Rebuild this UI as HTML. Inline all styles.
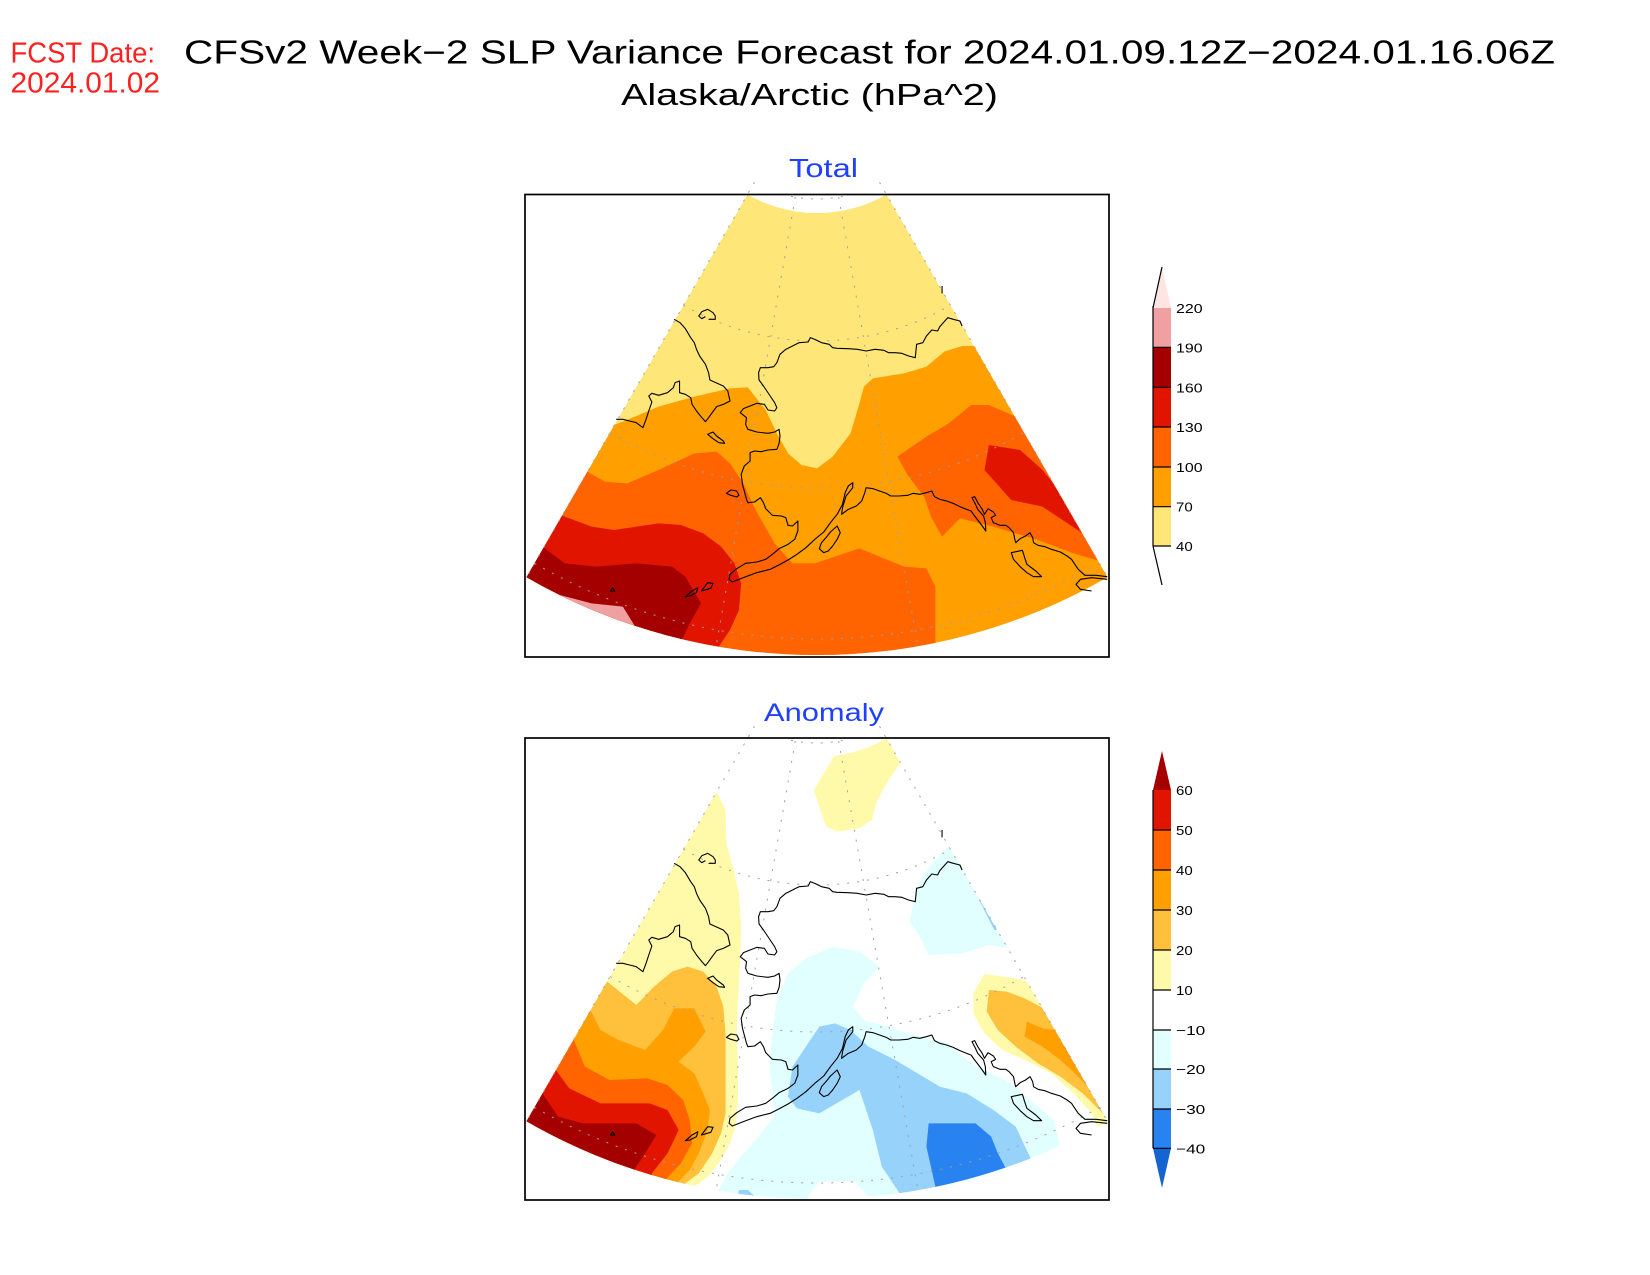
<!DOCTYPE html>
<html><head><meta charset="utf-8"><style>html,body{margin:0;padding:0;background:#fff}svg{display:block}</style></head><body>
<svg width="1650" height="1275" viewBox="0 0 1650 1275" xmlns="http://www.w3.org/2000/svg" font-family="'Liberation Sans', sans-serif">
<defs>
<clipPath id="c1"><path d="M747.5,194.4 L526.5,577.2 A581,581 0 0 0 1107.5,577.2 L886.5,194.4 A139,139 0 0 1 747.5,194.4 Z"/></clipPath>
<clipPath id="c2"><path d="M747.5,738.4 L526.5,1121.2 A581,581 0 0 0 1107.5,1121.2 L886.5,738.4 A139,139 0 0 1 747.5,738.4 Z"/></clipPath>
</defs>

<!-- Titles -->
<text x="10.5" y="62.7" font-size="29" fill="#ff2020" textLength="144.5" lengthAdjust="spacingAndGlyphs">FCST Date:</text>
<text x="10.5" y="92.7" font-size="29" fill="#ff2020" textLength="149.5" lengthAdjust="spacingAndGlyphs">2024.01.02</text>
<text x="184" y="63.3" font-size="33" fill="#000" textLength="1371" lengthAdjust="spacingAndGlyphs">CFSv2 Week−2 SLP Variance Forecast for 2024.01.09.12Z−2024.01.16.06Z</text>
<text x="621" y="105" font-size="31" fill="#000" textLength="377" lengthAdjust="spacingAndGlyphs">Alaska/Arctic (hPa^2)</text>
<text x="789" y="177" font-size="26" fill="#2040ff" textLength="69" lengthAdjust="spacingAndGlyphs">Total</text>
<text x="764" y="721" font-size="25" fill="#2040ff" textLength="120" lengthAdjust="spacingAndGlyphs">Anomaly</text>

<!-- TOP MAP -->
<g clip-path="url(#c1)">
<path d="M747.5,194.4 L526.5,577.2 A581,581 0 0 0 1107.5,577.2 L886.5,194.4 A139,139 0 0 1 747.5,194.4 Z" fill="#FFE678"/>
<g transform="translate(480,170) scale(0.446429,0.333333)">
<polygon fill="#FFA000" points="0,765 300,765 320,755 400,710 480,680 560,655 600,652 640,720 665,790 690,850 720,885 755,895 790,860 830,790 850,700 860,650 880,625 950,610 1000,590 1040,545 1080,528 1110,528 1700,528 1700,1600 0,1600"/>
<polygon fill="#FF6400" points="0,905 240,905 280,935 330,940 400,900 480,850 530,845 560,880 590,940 610,1000 630,1050 660,1120 700,1180 750,1180 850,1135 950,1190 1000,1195 1020,1250 1020,1600 0,1600"/>
<polygon fill="#FF6400" points="1100,705 1140,705 1200,740 1700,740 1700,1175 1380,1170 1330,1150 1250,1110 1150,1070 1075,1045 1035,1100 1010,1040 995,980 960,920 935,860 1000,800 1050,760"/>
<polygon fill="#E11400" points="1140,825 1210,840 1260,900 1290,950 1700,950 1700,1090 1350,1090 1260,1010 1190,990 1130,900"/>
<polygon fill="#E11400" points="0,1035 180,1035 250,1070 300,1080 400,1060 450,1065 500,1090 540,1130 570,1180 585,1240 580,1320 560,1380 530,1440 530,1600 0,1600"/>
<polygon fill="#A50000" points="0,1130 140,1130 190,1180 260,1190 350,1180 430,1190 460,1220 495,1300 470,1360 450,1415 450,1600 0,1600"/>
<polygon fill="#F0A0A0" points="0,1225 105,1225 150,1265 250,1300 320,1310 350,1375 350,1600 0,1600"/>
</g>
</g>

<!-- ANOMALY MAP -->
<g clip-path="url(#c2)">
<g transform="translate(480,700) scale(0.446429,0.333333)">
<polygon fill="#FFFAAA" points="795,165 860,140 915,110 945,185 920,230 890,300 878,360 850,385 800,395 775,380 760,320 748,270 770,220"/>
<polygon fill="#FFFAAA" points="0,275 530,275 550,330 552,430 570,520 580,580 585,680 583,780 578,900 575,1000 578,1100 578,1200 572,1280 560,1330 540,1380 510,1430 480,1460 480,1600 0,1600"/>
<polygon fill="#FFC03C" points="0,845 285,845 350,915 390,860 430,815 465,800 500,815 530,860 545,920 550,1000 550,1100 550,1240 540,1300 520,1360 490,1420 460,1450 460,1600 0,1600"/>
<polygon fill="#FFA000" points="0,925 245,925 270,990 310,1020 370,1050 410,990 435,925 480,925 505,995 480,1040 445,1085 480,1120 500,1180 515,1230 510,1290 490,1360 470,1410 440,1450 440,1600 0,1600"/>
<polygon fill="#FF6400" points="0,1020 210,1020 235,1100 290,1140 375,1135 420,1155 455,1200 470,1260 475,1330 450,1390 415,1440 415,1600 0,1600"/>
<polygon fill="#E11400" points="0,1110 170,1110 200,1165 270,1210 380,1210 420,1230 445,1290 420,1360 385,1420 385,1600 0,1600"/>
<polygon fill="#A50000" points="0,1180 140,1180 175,1250 230,1270 350,1270 395,1305 370,1360 345,1410 345,1600 0,1600"/>
<polygon fill="#FFFAAA" points="1130,822 1200,835 1225,845 1700,845 1700,1400 1385,1290 1370,1240 1330,1180 1280,1120 1220,1080 1170,1050 1130,1000 1105,940 1105,880"/>
<polygon fill="#FFC03C" points="1140,870 1180,875 1220,895 1255,920 1700,920 1700,1400 1395,1240 1350,1180 1300,1130 1250,1090 1200,1040 1160,990 1135,935"/>
<polygon fill="#FFA000" points="1225,965 1260,985 1290,990 1700,990 1700,1400 1375,1180 1340,1130 1300,1080 1260,1040 1220,1010"/>
<polygon fill="#FF6400" points="1310,1045 1700,1045 1700,1200 1330,1085"/>
<polygon fill="#E1FFFF" points="1050,440 1700,440 1700,745 1185,745 1140,735 1080,760 1005,765 985,710 962,665 975,580 990,530 1020,480"/>
<polygon fill="#96D2FA" points="1118,600 1700,600 1700,690 1152,690"/>
<polygon fill="#E1FFFF" points="790,740 850,755 895,800 860,850 835,920 860,960 900,975 960,1000 1050,1030 1100,1090 1190,1150 1250,1220 1285,1260 1300,1340 1300,1600 500,1600 530,1480 560,1410 610,1330 660,1250 655,1180 648,1100 655,1000 665,900 690,820 730,775"/>
<polygon fill="#FFFFFF" points="735,1600 735,1490 760,1445 840,1445 870,1490 875,1600"/>
<polygon fill="#96D2FA" points="760,980 795,970 830,990 870,1040 930,1080 1030,1160 1090,1180 1150,1230 1200,1280 1235,1380 1235,1600 940,1600 940,1480 900,1400 880,1290 850,1170 760,1240 710,1225 690,1190 700,1100 730,1040"/>
<polygon fill="#2882F0" points="1005,1270 1110,1270 1145,1310 1160,1360 1180,1410 1180,1600 1020,1600 1020,1460 1000,1340"/>
<polygon fill="#96D2FA" points="580,1470 600,1470 625,1500 575,1500"/>
</g>
</g>

<!-- Grid lines (dotted) -->
<g fill="none" stroke="#a0a0a0" stroke-width="1" stroke-dasharray="2 8">
<g>
<path d="M795.3,197.1 L716.1,646.2 M838.7,197.1 L917.9,646.2 M754.5,182.3 L526.5,577.2 M879.5,182.3 L1107.5,577.2"/>
<path d="M791,196.3 A125,125 0 0 0 843,196.3"/>
<path d="M683.5,305.2 A267,267 0 0 0 950.5,305.2"/>
<path d="M610,432.5 A414,414 0 0 0 1024,432.5"/>
<path d="M534.5,563.3 A565,565 0 0 0 1099.5,563.3"/>
</g>
<g transform="translate(0,544)">
<path d="M795.3,197.1 L716.1,646.2 M838.7,197.1 L917.9,646.2 M754.5,182.3 L526.5,577.2 M879.5,182.3 L1107.5,577.2"/>
<path d="M791,196.3 A125,125 0 0 0 843,196.3"/>
<path d="M683.5,305.2 A267,267 0 0 0 950.5,305.2"/>
<path d="M610,432.5 A414,414 0 0 0 1024,432.5"/>
<path d="M534.5,563.3 A565,565 0 0 0 1099.5,563.3"/>
</g>
</g>

<!-- Coastlines -->
<g id="coastdefs" fill="none" stroke="#000" stroke-width="1.1" stroke-linejoin="round">
<g transform="translate(480,156) scale(0.446429,0.333333)">
<path vector-effect="non-scaling-stroke" d="M1080,510 L1075,495 1060,490 1048,485 1040,497 1030,512 1025,525 1012,522 1000,540 992,560 978,565 975,605 960,600 945,592 930,590 915,590 905,583 885,580 865,585 845,580 825,578 800,577 790,575 782,565 765,560 750,550 740,545 735,558 715,560 700,570 685,580 672,595 665,620 658,632 645,635 628,635 624,650 625,672 635,690 650,720 660,740 665,755 660,765 645,762 637,745 620,742 605,750 590,758 583,770 597,785 595,805 600,820 620,828 645,832 660,828 670,820 672,840 670,862 665,880 645,882 630,887 615,885 605,890 605,915 592,930 585,955 588,985 593,1010 597,1030 600,1040 615,1038 628,1025 635,1040 640,1058 655,1078 675,1080 685,1085 690,1108 700,1110 712,1095 712,1125 705,1150 690,1165 670,1178 655,1195 640,1210 620,1218 595,1222 575,1238 560,1255 558,1270 565,1278 590,1265 620,1250 650,1240 672,1225 690,1212 710,1195 730,1175 750,1150 770,1128 785,1100 800,1075 812,1045 818,1010 825,990 835,980 835,995 820,1020 812,1055 810,1075 825,1060 843,1050 855,1035 862,1010 865,995 880,998 895,1005 910,1012 920,1020 938,1020 958,1018 970,1012 985,1015 1000,1010 1012,1005 1018,1022 1030,1030 1045,1035 1060,1042 1075,1052 1090,1060 1100,1065 1108,1080 1115,1092 1125,1110 1133,1125 1132,1100 1128,1080 1115,1060 1108,1040 1102,1025 1108,1022 1115,1040 1125,1060 1130,1075 1138,1058 1150,1068 1155,1078 1145,1085 1150,1100 1165,1108 1178,1108 1185,1115 1195,1130 1198,1150 1200,1160 1210,1148 1222,1140 1232,1130 1238,1145 1240,1160 1250,1168 1265,1172 1280,1180 1300,1188 1315,1200 1325,1210 1340,1240 1355,1258 1380,1258 1405,1262"/>
<path vector-effect="non-scaling-stroke" d="M1405,1270 L1370,1265 1345,1270 1335,1285 1345,1300 1370,1305"/>
<path vector-effect="non-scaling-stroke" d="M1190,1190 L1215,1183 1220,1205 1225,1225 1245,1245 1258,1262 1240,1262 1225,1250 1210,1232 1195,1210 Z"/>
<path vector-effect="non-scaling-stroke" d="M800,1110 L807,1130 800,1150 790,1170 780,1185 770,1190 760,1178 765,1160 775,1145 785,1128 Z"/>
<path vector-effect="non-scaling-stroke" d="M435,490 L448,500 460,518 472,545 480,560 485,580 492,600 505,625 512,650 515,672 528,680 545,690 555,705 560,735 545,745 530,752 520,770 512,785 505,797 497,785 485,765 475,745 472,725 460,715 447,710 447,690 447,675 437,680 433,695 420,710 400,718 385,712 378,720 385,738 378,765 372,790 365,815 350,800 335,795 320,790 305,790"/>
<path vector-effect="non-scaling-stroke" d="M505,482 L497,488 490,480 497,467 510,460 522,470 527,480 527,490 512,490"/>
<path vector-effect="non-scaling-stroke" d="M510,835 L522,828 530,840 545,855 548,862 535,860 522,848 Z"/>
<path vector-effect="non-scaling-stroke" d="M552,1012 L562,1002 575,1005 580,1018 575,1023 562,1018 Z"/>
<path vector-effect="non-scaling-stroke" d="M460,1322 L475,1305 488,1295 485,1310 470,1320 Z M496,1305 L510,1280 522,1282 517,1297 Z M292,1305 L297,1296 302,1305 Z"/>
<path vector-effect="non-scaling-stroke" d="M1035,390 L1035,412"/>
</g>
<g transform="translate(480,700) scale(0.446429,0.333333)">
<path vector-effect="non-scaling-stroke" d="M1080,510 L1075,495 1060,490 1048,485 1040,497 1030,512 1025,525 1012,522 1000,540 992,560 978,565 975,605 960,600 945,592 930,590 915,590 905,583 885,580 865,585 845,580 825,578 800,577 790,575 782,565 765,560 750,550 740,545 735,558 715,560 700,570 685,580 672,595 665,620 658,632 645,635 628,635 624,650 625,672 635,690 650,720 660,740 665,755 660,765 645,762 637,745 620,742 605,750 590,758 583,770 597,785 595,805 600,820 620,828 645,832 660,828 670,820 672,840 670,862 665,880 645,882 630,887 615,885 605,890 605,915 592,930 585,955 588,985 593,1010 597,1030 600,1040 615,1038 628,1025 635,1040 640,1058 655,1078 675,1080 685,1085 690,1108 700,1110 712,1095 712,1125 705,1150 690,1165 670,1178 655,1195 640,1210 620,1218 595,1222 575,1238 560,1255 558,1270 565,1278 590,1265 620,1250 650,1240 672,1225 690,1212 710,1195 730,1175 750,1150 770,1128 785,1100 800,1075 812,1045 818,1010 825,990 835,980 835,995 820,1020 812,1055 810,1075 825,1060 843,1050 855,1035 862,1010 865,995 880,998 895,1005 910,1012 920,1020 938,1020 958,1018 970,1012 985,1015 1000,1010 1012,1005 1018,1022 1030,1030 1045,1035 1060,1042 1075,1052 1090,1060 1100,1065 1108,1080 1115,1092 1125,1110 1133,1125 1132,1100 1128,1080 1115,1060 1108,1040 1102,1025 1108,1022 1115,1040 1125,1060 1130,1075 1138,1058 1150,1068 1155,1078 1145,1085 1150,1100 1165,1108 1178,1108 1185,1115 1195,1130 1198,1150 1200,1160 1210,1148 1222,1140 1232,1130 1238,1145 1240,1160 1250,1168 1265,1172 1280,1180 1300,1188 1315,1200 1325,1210 1340,1240 1355,1258 1380,1258 1405,1262"/>
<path vector-effect="non-scaling-stroke" d="M1405,1270 L1370,1265 1345,1270 1335,1285 1345,1300 1370,1305"/>
<path vector-effect="non-scaling-stroke" d="M1190,1190 L1215,1183 1220,1205 1225,1225 1245,1245 1258,1262 1240,1262 1225,1250 1210,1232 1195,1210 Z"/>
<path vector-effect="non-scaling-stroke" d="M800,1110 L807,1130 800,1150 790,1170 780,1185 770,1190 760,1178 765,1160 775,1145 785,1128 Z"/>
<path vector-effect="non-scaling-stroke" d="M435,490 L448,500 460,518 472,545 480,560 485,580 492,600 505,625 512,650 515,672 528,680 545,690 555,705 560,735 545,745 530,752 520,770 512,785 505,797 497,785 485,765 475,745 472,725 460,715 447,710 447,690 447,675 437,680 433,695 420,710 400,718 385,712 378,720 385,738 378,765 372,790 365,815 350,800 335,795 320,790 305,790"/>
<path vector-effect="non-scaling-stroke" d="M505,482 L497,488 490,480 497,467 510,460 522,470 527,480 527,490 512,490"/>
<path vector-effect="non-scaling-stroke" d="M510,835 L522,828 530,840 545,855 548,862 535,860 522,848 Z"/>
<path vector-effect="non-scaling-stroke" d="M552,1012 L562,1002 575,1005 580,1018 575,1023 562,1018 Z"/>
<path vector-effect="non-scaling-stroke" d="M460,1322 L475,1305 488,1295 485,1310 470,1320 Z M496,1305 L510,1280 522,1282 517,1297 Z M292,1305 L297,1296 302,1305 Z"/>
<path vector-effect="non-scaling-stroke" d="M1035,390 L1035,412"/>
</g>
</g>

<!-- Frames -->
<rect x="525" y="194.5" width="584" height="462.5" fill="none" stroke="#000" stroke-width="1.7"/>
<rect x="525" y="738" width="584" height="462" fill="none" stroke="#000" stroke-width="1.7"/>

<!-- Colorbar 1 -->
<g>
<polygon points="1153,308 1162,267 1171,308" fill="#FFE4E4"/>
<rect x="1153" y="308" width="18" height="39.3" fill="#F0A0A0"/>
<rect x="1153" y="347.3" width="18" height="40" fill="#A50000"/>
<rect x="1153" y="387.3" width="18" height="39.7" fill="#E11400"/>
<rect x="1153" y="427" width="18" height="40" fill="#FF6400"/>
<rect x="1153" y="467" width="18" height="39.7" fill="#FFA000"/>
<rect x="1153" y="506.7" width="18" height="39.3" fill="#FFE678"/>
<g stroke="#000" stroke-width="1.2" fill="none">
<path d="M1153,308 L1162,267"/>
<path d="M1153,546 L1162,585"/>
<path d="M1153,306 L1153,546"/>
<path d="M1153,347.3 H1171 M1153,387.3 H1171 M1153,427 H1171 M1153,467 H1171 M1153,506.7 H1171 M1153,546 H1171"/>
</g>
<g font-size="13" fill="#000">
<text x="1176" y="313" textLength="26.6" lengthAdjust="spacingAndGlyphs">220</text>
<text x="1176" y="352.3" textLength="26.6" lengthAdjust="spacingAndGlyphs">190</text>
<text x="1176" y="392.3" textLength="26.6" lengthAdjust="spacingAndGlyphs">160</text>
<text x="1176" y="432" textLength="26.6" lengthAdjust="spacingAndGlyphs">130</text>
<text x="1176" y="472" textLength="26.6" lengthAdjust="spacingAndGlyphs">100</text>
<text x="1176" y="511.7" textLength="16.7" lengthAdjust="spacingAndGlyphs">70</text>
<text x="1176" y="551" textLength="16.7" lengthAdjust="spacingAndGlyphs">40</text>
</g>
</g>

<!-- Colorbar 2 -->
<g>
<polygon points="1153,790 1162,751 1171,790" fill="#A50000"/>
<rect x="1153" y="790" width="18" height="40" fill="#E11400"/>
<rect x="1153" y="830" width="18" height="40" fill="#FF6400"/>
<rect x="1153" y="870" width="18" height="40" fill="#FFA000"/>
<rect x="1153" y="910" width="18" height="40" fill="#FFC03C"/>
<rect x="1153" y="950" width="18" height="40" fill="#FFFAAA"/>
<rect x="1153" y="1030" width="18" height="39" fill="#E1FFFF"/>
<rect x="1153" y="1069" width="18" height="40" fill="#96D2FA"/>
<rect x="1153" y="1109" width="18" height="39.3" fill="#2882F0"/>
<polygon points="1153,1148.3 1162,1188 1171,1148.3" fill="#1464D2"/>
<g stroke="#000" stroke-width="1.2" fill="none">
<path d="M1153,790 L1153,1148.3"/>
<path d="M1153,830 H1171 M1153,870 H1171 M1153,910 H1171 M1153,950 H1171 M1153,990 H1171 M1153,1030 H1171 M1153,1069 H1171 M1153,1109 H1171 M1153,1148.3 H1171"/>
</g>
<g font-size="13" fill="#000">
<text x="1176" y="795" textLength="16.7" lengthAdjust="spacingAndGlyphs">60</text>
<text x="1176" y="835" textLength="16.7" lengthAdjust="spacingAndGlyphs">50</text>
<text x="1176" y="875" textLength="16.7" lengthAdjust="spacingAndGlyphs">40</text>
<text x="1176" y="915" textLength="16.7" lengthAdjust="spacingAndGlyphs">30</text>
<text x="1176" y="955" textLength="16.7" lengthAdjust="spacingAndGlyphs">20</text>
<text x="1176" y="995" textLength="16.7" lengthAdjust="spacingAndGlyphs">10</text>
<text x="1176" y="1035" textLength="29.3" lengthAdjust="spacingAndGlyphs">−10</text>
<text x="1176" y="1074" textLength="29.3" lengthAdjust="spacingAndGlyphs">−20</text>
<text x="1176" y="1114" textLength="29.3" lengthAdjust="spacingAndGlyphs">−30</text>
<text x="1176" y="1153.3" textLength="29.3" lengthAdjust="spacingAndGlyphs">−40</text>
</g>
</g>
</svg>
</body></html>
